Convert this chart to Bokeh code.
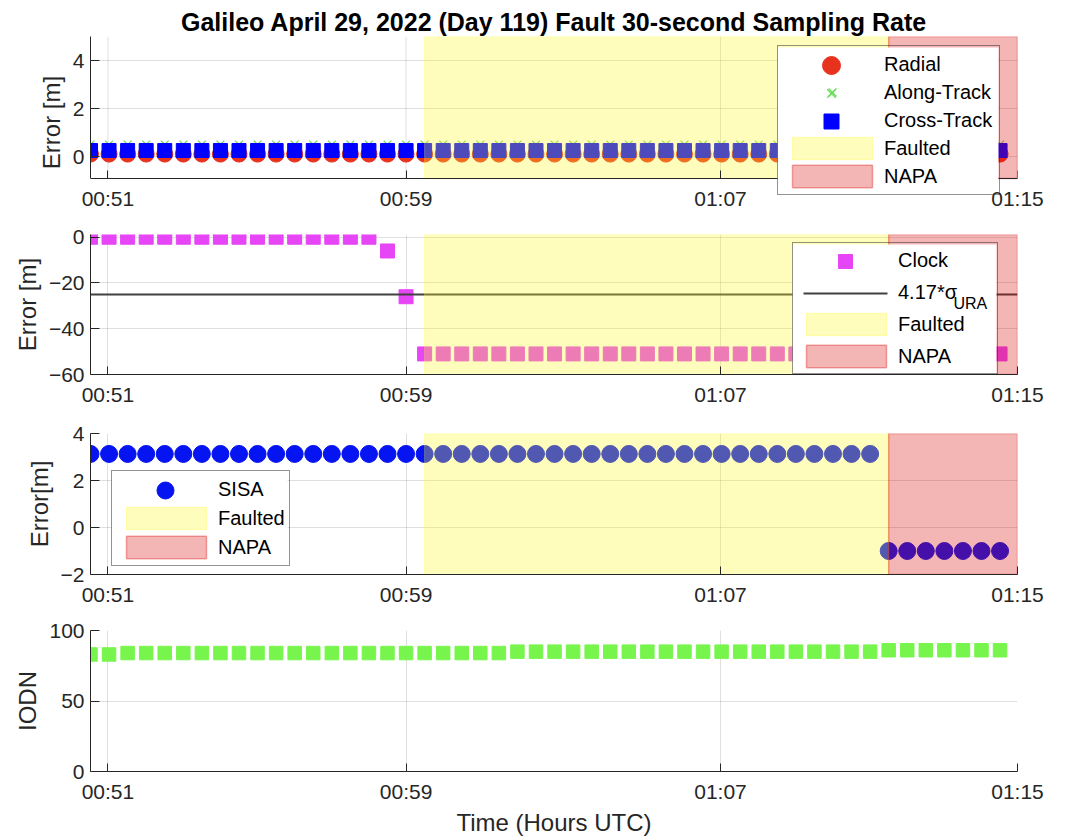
from bokeh.plotting import figure
from bokeh.models import Range1d, FixedTicker, Legend, LegendItem, LinearAxis
from bokeh.layouts import column
from bokeh.embed import file_html
from bokeh.resources import INLINE
from bokeh.core.properties import value

# ---------------- data ----------------
# epochs: minutes of day (UTC), 30-second sampling starting 00:50:30
T0_MIN = 50.5
STEP_MIN = 0.5
N_EPOCHS = 50
time_min = [T0_MIN + STEP_MIN * k for k in range(N_EPOCHS)]

radial_err = [0.10] * 50
along_err = [0.50] * 50
cross_err = [0.25] * 50

clock_err = [0.0] * 16 + [-6.0, -26.0] + [-51.0] * 32
ura_bound = -25.0          # 4.17 * sigma_URA

sisa = [3.13] * 43 + [-1.0] * 7
iodn = [83] * 2 + [84] * 21 + [85] * 20 + [86] * 7

fault_start = 59.5          # 00:59:30
napa_start = 72.0           # 01:12:00
x_end = 75.47

tick_pos = [50.97, 59.0, 67.47, 75.47]
tick_labels = ["00:51", "00:59", "01:07", "01:15"]

# ---------------- style / layout ----------------
FONT = "Liberation Sans"
AX = "#262626"
FW = 927                    # axes width in px
LEFT = 90                   # axes left edge in px
RIGHT_PAD = 45
PX_PER_MIN = FW / (x_end - T0_MIN)
YELLOW = "#fff820"
RED = "#dc0a0a"


def style_axis(ax):
    ax.axis_line_color = AX
    ax.major_tick_line_color = AX
    ax.major_tick_out = 0
    ax.minor_tick_line_color = None
    ax.major_label_text_font = FONT
    ax.major_label_text_font_size = "21px"
    ax.major_label_text_color = AX
    ax.axis_label_text_font = FONT
    ax.axis_label_text_font_size = "24px"
    ax.axis_label_text_font_style = "normal"
    ax.axis_label_text_color = AX


def make_fig(yr, yticks, ylabel, fh, bt, bb):
    p = figure(frame_width=FW, frame_height=fh,
               x_range=Range1d(T0_MIN, x_end), y_range=Range1d(*yr),
               output_backend="svg", toolbar_location=None,
               min_border_left=LEFT, min_border_right=RIGHT_PAD,
               min_border_top=bt, min_border_bottom=bb)
    p.outline_line_color = None
    p.background_fill_color = "white"
    p.xaxis.ticker = FixedTicker(ticks=tick_pos)
    p.xaxis.major_label_overrides = {tp: tl for tp, tl in zip(tick_pos, tick_labels)}
    p.yaxis.ticker = FixedTicker(ticks=yticks)
    style_axis(p.xaxis[0])
    style_axis(p.yaxis[0])
    p.xaxis.major_tick_in = 8
    p.yaxis.major_tick_in = 9
    p.xaxis.major_label_standoff = 8
    p.yaxis.major_label_standoff = 6
    p.yaxis.axis_label_standoff = 5
    p.yaxis.axis_label = ylabel
    for g in (p.xgrid[0], p.ygrid[0]):
        g.grid_line_color = AX
        g.grid_line_alpha = 0.15
    p.xgrid.ticker = FixedTicker(ticks=tick_pos)
    p.ygrid.ticker = FixedTicker(ticks=yticks)
    p._fh, p._yr = fh, yr
    return p


def to_data(p, sx, sy):
    """offset in px from the frame's left / top edge -> data coordinates"""
    yr = p._yr
    return T0_MIN + sx / PX_PER_MIN, yr[1] - sy / p._fh * (yr[1] - yr[0])


def add_regions(p, y0, y1):
    fq = p.quad(left=[fault_start], right=[napa_start], bottom=[y0], top=[y1],
                fill_color=YELLOW, fill_alpha=0.3, line_color=YELLOW, line_alpha=0.3)
    nq = p.quad(left=[napa_start], right=[x_end], bottom=[y0], top=[y1],
                fill_color=RED, fill_alpha=0.3, line_color=RED, line_alpha=0.35, line_width=1.5)
    return fq, nq


def add_legend(p, items, box_left, box_bottom, pad, gh, spacing, label_w, symbols, lines=None):
    """box_left: px from canvas left, box_bottom: px above frame bottom"""
    n = len(items)
    box_h = 2 * pad + n * gh + (n - 1) * spacing
    box_w = 2 * pad + 100 + 2 + label_w
    lx = box_left - LEFT
    top = p._fh - box_bottom - box_h
    # white card under the (transparent) legend
    xa, ya = to_data(p, lx, top)
    xb, yb = to_data(p, lx + box_w, top + box_h)
    p.quad(left=[xa], right=[xb], top=[ya], bottom=[yb], fill_color="white", line_color=None)
    rows = [top + pad + i * (gh + spacing) + gh / 2 for i in range(n)]
    gx = lx + pad + 50
    # full-size legend symbols
    for i, sym in symbols.items():
        x, y = to_data(p, gx, rows[i])
        p.scatter([x], [y], **sym)
    for i, sty in (lines or {}).items():
        xl, y = to_data(p, gx - 42, rows[i])
        xr, _ = to_data(p, gx + 42, rows[i])
        p.line([xl, xr], [y, y], **sty)
    leg = Legend(items=items, location=(lx, box_bottom), padding=pad, spacing=spacing,
                 glyph_width=100, glyph_height=gh, label_standoff=2,
                 label_width=label_w, margin=0,
                 border_line_color=AX, border_line_width=1,
                 background_fill_alpha=0,
                 label_text_font=FONT, label_text_font_size="20px",
                 label_text_color="black")
    p.add_layout(leg, "center")
    return rows, gx, (xa, xb)


# ---------------- panel 1 ----------------
# the frame runs below the x axis so that the legend can overhang it
y_axis1 = -0.92
y_top1 = 5.0
FH1 = 172
yr1 = (y_top1 - FH1 / 24.0, y_top1)
p1 = make_fig(yr1, [0, 2, 4], "Error [m]", FH1, 36, 0)
p1.yaxis.bounds = (y_axis1, y_top1)
p1.xgrid.visible = False
p1.ygrid.visible = False
# default bottom axis only carries the tick labels, pulled up to sit under the real axis
p1.xaxis.axis_line_color = None
p1.xaxis.major_tick_line_color = None
p1.xaxis.major_label_standoff = -22
p1.segment(x0=tick_pos, y0=[y_axis1] * 4, x1=tick_pos, y1=[y_top1] * 4,
           line_color=AX, line_alpha=0.15, level="underlay")
p1.segment(x0=[T0_MIN] * 3, y0=[0, 2, 4], x1=[x_end] * 3, y1=[0, 2, 4],
           line_color=AX, line_alpha=0.15, level="underlay")
p1.title.text = "Galileo April 29, 2022 (Day 119) Fault 30-second Sampling Rate"
p1.title.align = "center"
p1.title.text_font = FONT
p1.title.text_font_size = "25px"
p1.title.text_font_style = "bold"
p1.title.text_color = "black"
p1.title.standoff = 2

r_rad = p1.scatter(time_min, radial_err, marker="circle", size=16, fill_color="#e8321e", line_color="#e8321e")
r_alo = p1.scatter(time_min, along_err, marker="x", size=11, line_color="#66dd55", line_width=1.3)
r_cro = p1.scatter(time_min, cross_err, marker="square", size=14, fill_color="#0000ff", line_color="#0000ff")
fq1, nq1 = add_regions(p1, y_axis1, y_top1)
_, _, (bx0, bx1) = add_legend(
    p1, [LegendItem(label="Radial", renderers=[r_rad]),
         LegendItem(label="Along-Track", renderers=[r_alo]),
         LegendItem(label="Cross-Track", renderers=[r_cro]),
         LegendItem(label="Faulted", renderers=[fq1]),
         LegendItem(label="NAPA", renderers=[nq1])],
    777, 13, 4, 28, 0, 111,
    {0: dict(marker="circle", size=18, fill_color="#e8321e", line_color="#e8321e"),
     1: dict(marker="x", size=12, line_color="#66dd55", line_width=1.3),
     2: dict(marker="square", size=15, fill_color="#0000ff", line_color="#0000ff")})

# the visible x axis line + ticks, pinned at y_axis1 and interrupted by the legend
for bnds, tks in (((T0_MIN, bx0), tick_pos[:3]), ((bx1, x_end), tick_pos[3:])):
    ax = LinearAxis(fixed_location=y_axis1, bounds=bnds, ticker=FixedTicker(ticks=tks),
                    major_label_overrides={t: "" for t in tks})
    style_axis(ax)
    ax.major_tick_in = 8
    p1.add_layout(ax, "below")

# ---------------- panel 2 ----------------
yr2 = (-60.0, 1.2)
p2 = make_fig(yr2, [-60, -40, -20, 0], "Error [m]", 140, 22, 36)
r_clk = p2.scatter(time_min, clock_err, marker="square", size=14, fill_color="#e646f5", line_color="#e646f5")
p2.line([T0_MIN, x_end], [ura_bound, ura_bound], line_color="#404040", line_width=2)
r_bnd_key = p2.line(x=[], y=[], line_color="#404040", line_alpha=0)   # legend key only
fq2, nq2 = add_regions(p2, yr2[0], yr2[1])
rows2, gx2, _ = add_legend(p2, [LegendItem(label="Clock", renderers=[r_clk]),
                                LegendItem(label="4.17*σ", renderers=[r_bnd_key]),
                                LegendItem(label="Faulted", renderers=[fq2]),
                                LegendItem(label="NAPA", renderers=[nq2])],
                           792, 0, 3, 28, 4, 96,
                           {0: dict(marker="square", size=14, fill_color="#e646f5", line_color="#e646f5")},
                           {1: dict(line_color="#404040", line_width=2)})
xs, ys = to_data(p2, gx2 + 50 + 2 + 56, rows2[1] + 10)
p2.text(x=[xs], y=[ys], text=["URA"], text_font=value(FONT), text_font_size="16px",
        text_baseline="middle", text_color="black")

# ---------------- panel 3 ----------------
yr3 = (-2.0, 4.0)
p3 = make_fig(yr3, [-2, 0, 2, 4], "Error[m]", 141, 23, 36)
r_sis = p3.scatter(time_min, sisa, marker="circle", size=17, fill_color="#0514f0", line_color="#0514f0")
fq3, nq3 = add_regions(p3, yr3[0], yr3[1])
add_legend(p3, [LegendItem(label="SISA", renderers=[r_sis]),
                LegendItem(label="Faulted", renderers=[fq3]),
                LegendItem(label="NAPA", renderers=[nq3])],
           111, 8, 4, 28, 1, 66,
           {0: dict(marker="circle", size=17, fill_color="#0514f0", line_color="#0514f0")})

# ---------------- panel 4 ----------------
yr4 = (0.0, 100.0)
p4 = make_fig(yr4, [0, 50, 100], "IODN", 141, 20, 60)
p4.scatter(time_min, iodn, marker="square", size=13.5, fill_color="#77f54d", line_color="#77f54d")
p4.xaxis.axis_label = "Time (Hours UTC)"
p4.xaxis.axis_label_standoff = 3

layout = column(p1, p2, p3, p4)
open("out.html", "w").write(file_html(layout, INLINE))
